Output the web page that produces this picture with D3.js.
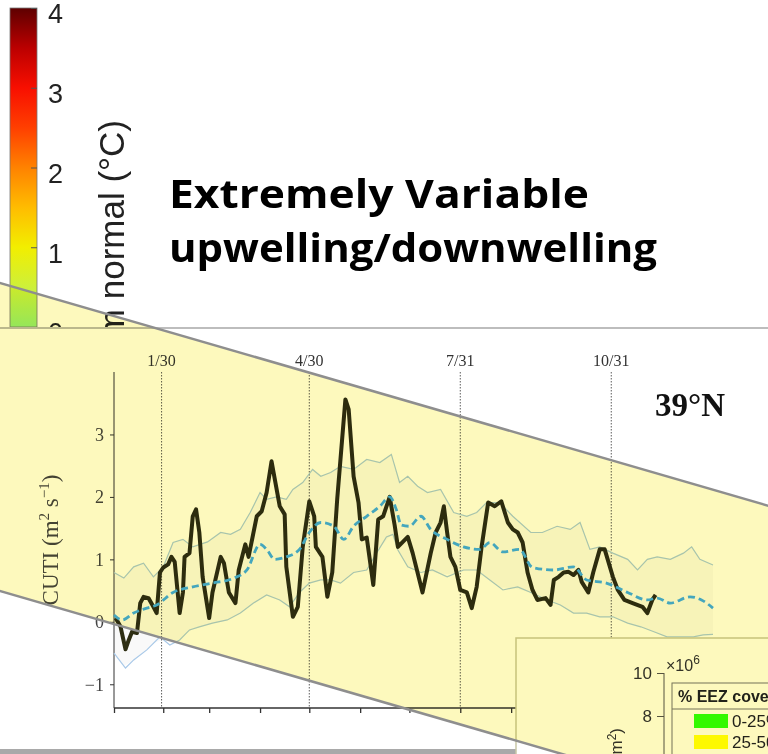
<!DOCTYPE html>
<html>
<head>
<meta charset="utf-8">
<script src="https://cdnjs.cloudflare.com/ajax/libs/d3/7.8.5/d3.min.js"></script>
<style>
  body { margin: 0; background: #fff; }
  svg { display: block; }
</style>
</head>
<body>
<div id="chart"></div>
<script>
// ---- data ----
// current year CUTI at 39N (thick black line)
var yearDays = [2, 5, 8, 10, 12, 15, 17, 19, 22, 25, 27, 29, 31, 34, 36, 38, 41, 43, 44, 47, 49, 51, 53, 55, 59, 61, 66, 68, 71, 75, 77, 81, 83, 88, 91, 94, 97, 99, 102, 105, 106, 110, 113, 116, 120, 123, 124, 128, 131, 134, 137, 142, 144, 147, 150, 152, 155, 159, 162, 165, 169, 172, 174, 180, 183, 189, 194, 197, 200, 202, 204, 206, 209, 212, 216, 219, 222, 225, 229, 233, 237, 241, 244, 247, 250, 253, 256, 259, 264, 267, 269, 272, 275, 278, 281, 284, 286, 290, 293, 297, 300, 305, 308, 312, 317, 323, 326, 329, 331];
var yearCuti = [0.06, -0.08, -0.44, -0.29, -0.16, -0.18, 0.3, 0.4, 0.38, 0.24, 0.14, 0.79, 0.87, 0.92, 1.04, 0.96, 0.14, 0.47, 1.04, 1.1, 1.69, 1.8, 1.43, 0.72, 0.06, 0.47, 1.04, 0.94, 0.47, 0.3, 0.83, 1.24, 1.04, 1.69, 1.77, 2.07, 2.57, 2.28, 1.85, 1.72, 0.88, 0.08, 0.24, 1.2, 1.93, 1.69, 1.2, 1.04, 0.4, 0.79, 1.96, 3.56, 3.4, 2.33, 1.91, 1.32, 1.35, 0.59, 1.64, 1.69, 2.0, 1.55, 1.2, 1.36, 1.1, 0.47, 1.1, 1.43, 1.59, 1.85, 1.43, 1.04, 0.88, 0.51, 0.47, 0.22, 0.56, 1.2, 1.91, 1.85, 1.93, 1.59, 1.48, 1.43, 1.27, 0.79, 0.51, 0.35, 0.38, 0.27, 0.67, 0.72, 0.79, 0.8, 0.75, 0.83, 0.64, 0.47, 0.79, 1.16, 1.16, 0.72, 0.51, 0.35, 0.3, 0.24, 0.14, 0.35, 0.43];

// climatological mean (dashed blue)
var meanDays = [1, 6, 13, 21, 27, 37, 49, 61, 74, 82, 90, 94, 99, 106, 114, 120, 127, 135, 141, 147, 155, 163, 169, 173, 176, 181, 188, 194, 204, 214, 224, 230, 238, 248, 256, 269, 281, 289, 301, 314, 326, 332, 340, 352, 359, 366];
var meanCuti = [0.11, 0.03, 0.14, 0.22, 0.27, 0.47, 0.56, 0.62, 0.7, 0.83, 1.24, 1.16, 1.0, 1.04, 1.16, 1.43, 1.59, 1.53, 1.32, 1.53, 1.69, 1.85, 2.0, 1.8, 1.55, 1.53, 1.69, 1.48, 1.32, 1.2, 1.16, 1.27, 1.12, 1.16, 0.87, 0.83, 0.88, 0.67, 0.62, 0.47, 0.35, 0.38, 0.3, 0.4, 0.35, 0.22];

// upper and lower envelope (thin light blue)
var upperDays = [1, 7, 13, 19, 25, 31, 37, 43, 49, 58, 66, 72, 78, 84, 90, 94, 100, 106, 110, 116, 122, 127, 133, 139, 147, 155, 163, 170, 175, 180, 186, 192, 200, 208, 216, 222, 228, 236, 244, 255, 262, 271, 279, 285, 291, 297, 305, 314, 320, 326, 332, 340, 348, 353, 358, 366];
var upperCuti = [0.79, 0.7, 0.88, 0.94, 0.72, 0.88, 1.27, 1.32, 1.2, 1.28, 1.43, 1.4, 1.48, 1.75, 2.07, 1.96, 2.0, 1.96, 2.12, 2.23, 2.44, 2.33, 2.39, 2.49, 2.44, 2.6, 2.55, 2.68, 2.23, 2.33, 2.17, 2.07, 2.12, 1.75, 1.69, 1.75, 1.91, 1.91, 1.69, 1.43, 1.43, 1.53, 1.48, 1.59, 1.16, 1.2, 1.1, 1.0, 0.83, 1.0, 1.04, 1.0, 1.1, 1.2, 1.0, 0.91];
var lowerDays = [1, 8, 13, 21, 29, 35, 41, 47, 53, 61, 70, 78, 86, 94, 102, 108, 114, 120, 127, 133, 139, 147, 155, 161, 167, 171, 174, 180, 188, 195, 204, 214, 222, 230, 238, 247, 255, 265, 273, 281, 289, 297, 305, 314, 322, 330, 338, 346, 354, 360, 366];
var lowerCuti = [-0.5, -0.74, -0.61, -0.45, -0.24, -0.37, -0.29, -0.13, -0.08, -0.02, 0.03, 0.14, 0.3, 0.43, 0.35, 0.24, 0.47, 0.62, 0.67, 0.67, 0.62, 0.79, 0.83, 1.1, 1.36, 1.4, 1.15, 0.88, 0.79, 0.83, 0.72, 0.83, 0.83, 0.67, 0.51, 0.56, 0.47, 0.35, 0.27, 0.14, 0.14, 0.08, 0.08, -0.02, -0.08, -0.16, -0.24, -0.24, -0.24, -0.21, -0.2];

var monthTickDays = [1, 31, 59, 90, 120, 151, 181, 212, 243, 273, 304, 334, 365];
var dateLabelDays = [30, 120, 212, 304];
var dateLabels = ["1/30", "4/30", "7/31", "10/31"];
var cutiTicks = [-1, 0, 1, 2, 3];

// colour bar (temperature difference)
var colorbarTicks = [0, 1, 2, 3, 4];
var colorbarStopValues = [0, 0.5, 1, 1.5, 2, 2.5, 3, 3.5, 4];
var colorbarStopColors = ["#96ec78", "#cdf03a", "#f2ee00", "#ffbc00", "#ff8200", "#ff3f00", "#f80f00", "#bb0000", "#5e0000"];

// inset bar chart fragment
var insetTicks = [8, 10];
var legendLabels = ["0-25%", "25-50%"];
var legendColors = ["#33ff00", "#ffff00"];

// ---- svg ----
var svgWidth = 768;
var svgHeight = 754;

var svg = d3.select("#chart")
  .append("svg")
  .attr("width", svgWidth)
  .attr("height", svgHeight);

svg.append("rect")
  .attr("width", svgWidth)
  .attr("height", svgHeight)
  .attr("fill", "#fff");

// ---- colour bar at top left ----
var cbScale = d3.scaleLinear().domain([0, 4]).range([327, 8]);
var cbColor = d3.scaleLinear().domain(colorbarStopValues).range(colorbarStopColors);

var grad = svg.append("defs").append("linearGradient")
  .attr("id", "cbgrad")
  .attr("x1", 0).attr("y1", 1).attr("x2", 0).attr("y2", 0);

grad.selectAll("stop")
  .data(colorbarStopValues)
  .enter()
  .append("stop")
  .attr("offset", d => d / 4)
  .attr("stop-color", d => cbColor(d));

svg.append("rect")
  .attr("x", 10)
  .attr("y", cbScale(4))
  .attr("width", 27)
  .attr("height", cbScale(0) - cbScale(4))
  .attr("fill", "url(#cbgrad)")
  .attr("stroke", "#777")
  .attr("stroke-width", 0.8);

var cbAxis = d3.axisRight(cbScale)
  .tickValues(colorbarTicks)
  .tickFormat(d3.format("d"))
  .tickSize(-6)
  .tickPadding(11);

var cbAxisG = svg.append("g")
  .attr("transform", "translate(37,0)")
  .call(cbAxis);
cbAxisG.select(".domain").remove();
cbAxisG.selectAll("line").attr("stroke", "#555");
cbAxisG.selectAll("text")
  .attr("fill", "#222")
  .attr("dy", "0.55em")
  .style("font-family", "Liberation Sans, Arial, sans-serif")
  .style("font-size", "27px");

svg.append("text")
  .attr("transform", "translate(124,120) rotate(-90)")
  .attr("text-anchor", "end")
  .style("font-family", "Liberation Sans, Arial, sans-serif")
  .style("font-size", "35px")
  .attr("fill", "#222")
  .text("Difference from normal (°C)");

// title
svg.append("text")
  .attr("x", 169).attr("y", 208)
  .attr("textLength", 420)
  .attr("lengthAdjust", "spacingAndGlyphs")
  .style("font-family", "Open Sans, Lato, sans-serif")
  .style("font-weight", "bold")
  .style("font-size", "39px")
  .attr("fill", "#000")
  .text("Extremely Variable");
svg.append("text")
  .attr("x", 169).attr("y", 262)
  .attr("textLength", 488)
  .attr("lengthAdjust", "spacingAndGlyphs")
  .style("font-family", "Open Sans, Lato, sans-serif")
  .style("font-weight", "bold")
  .style("font-size", "39px")
  .attr("fill", "#000")
  .text("upwelling/downwelling");

// ---- CUTI chart panel ----
var panel = svg.append("g");

panel.append("rect")
  .attr("x", 0).attr("y", 328)
  .attr("width", svgWidth).attr("height", svgHeight - 328)
  .attr("fill", "#fff");

panel.append("line")
  .attr("x1", 0).attr("x2", svgWidth)
  .attr("y1", 328).attr("y2", 328)
  .attr("stroke", "#bdbdbd")
  .attr("stroke-width", 2);

var xScale = d3.scaleLinear().domain([1, 366]).range([114, 713]);
var yScale = d3.scaleLinear().domain([-1.38, 4.0]).range([708, 372]);

// shaded envelope (very faint)
var lowerAt = d3.scaleLinear().domain(lowerDays).range(lowerCuti);
var envelope = upperDays.map(function(d, i) {
  return { day: d, up: upperCuti[i], lo: lowerAt(d) };
});
panel.append("path")
  .datum(envelope)
  .attr("fill", "#f9f9f9")
  .attr("d", d3.area()
    .x(d => xScale(d.day))
    .y0(d => yScale(d.lo))
    .y1(d => yScale(d.up)));

// date guide lines
panel.selectAll(".guide")
  .data(dateLabelDays)
  .enter()
  .append("line")
  .attr("class", "guide")
  .attr("x1", d => xScale(d)).attr("x2", d => xScale(d))
  .attr("y1", 372).attr("y2", 708)
  .attr("stroke", "#333")
  .attr("stroke-width", 0.8)
  .attr("stroke-dasharray", "1.5,1.5");

panel.selectAll(".datelabel")
  .data(dateLabelDays)
  .enter()
  .append("text")
  .attr("class", "datelabel")
  .attr("x", d => xScale(d))
  .attr("y", 366)
  .attr("text-anchor", "middle")
  .style("font-family", "Liberation Serif, Times New Roman, serif")
  .style("font-size", "16px")
  .attr("fill", "#333")
  .text((d, i) => dateLabels[i]);

// axes
var leftAxis = d3.axisLeft(yScale).tickValues(cutiTicks).tickFormat(d3.format("d")).tickSize(4).tickPadding(6);
var bottomAxis = d3.axisBottom(xScale).tickValues(monthTickDays).tickSize(5).tickFormat("");

var yAxisG = panel.append("g")
  .attr("transform", "translate(114,0)")
  .call(leftAxis);
yAxisG.select(".domain").attr("d", "M0,372V708").attr("stroke", "#333");
yAxisG.selectAll("line").attr("stroke", "#333");
yAxisG.selectAll("text")
  .attr("fill", "#444")
  .style("font-family", "Liberation Serif, Times New Roman, serif")
  .style("font-size", "18px");

var xAxisG = panel.append("g")
  .attr("transform", "translate(0,708)")
  .call(bottomAxis);
xAxisG.select(".domain").attr("d", "M114,0H713").attr("stroke", "#333").attr("stroke-width", 1.3);
xAxisG.selectAll("line").attr("stroke", "#333").attr("stroke-width", 1.3);

panel.append("text")
  .attr("transform", "translate(58,540) rotate(-90)")
  .attr("text-anchor", "middle")
  .style("font-family", "Liberation Serif, Times New Roman, serif")
  .style("font-size", "23px")
  .attr("fill", "#444")
  .html("CUTI (m<tspan dy='-9' font-size='15px'>2</tspan><tspan dy='9'> s</tspan><tspan dy='-9' font-size='15px'>−1</tspan><tspan dy='9'>)</tspan>");

panel.append("text")
  .attr("x", 655).attr("y", 416)
  .style("font-family", "Liberation Serif, Times New Roman, serif")
  .style("font-weight", "bold")
  .style("font-size", "33px")
  .attr("fill", "#111")
  .text("39°N");

// envelope lines
var line = d3.line().x(d => xScale(d[0])).y(d => yScale(d[1]));

panel.append("path")
  .datum(upperDays.map((d, i) => [d, upperCuti[i]]))
  .attr("fill", "none").attr("stroke", "#a9c9e8").attr("stroke-width", 1.2)
  .attr("d", line);
panel.append("path")
  .datum(lowerDays.map((d, i) => [d, lowerCuti[i]]))
  .attr("fill", "none").attr("stroke", "#a9c9e8").attr("stroke-width", 1.2)
  .attr("d", line);

// current year
panel.append("path")
  .datum(yearDays.map((d, i) => [d, yearCuti[i]]))
  .attr("fill", "none")
  .attr("stroke", "#2d2d12")
  .attr("stroke-width", 4)
  .attr("stroke-linejoin", "round")
  .attr("d", line);

// climatology
panel.append("path")
  .datum(meanDays.map((d, i) => [d, meanCuti[i]]))
  .attr("fill", "none")
  .attr("stroke", "#44aaff")
  .attr("stroke-width", 2.8)
  .attr("stroke-dasharray", "7,4")
  .attr("d", d3.line().curve(d3.curveMonotoneX).x(d => xScale(d[0])).y(d => yScale(d[1])));

// bottom frame bar
panel.append("rect")
  .attr("x", 0).attr("y", 749)
  .attr("width", svgWidth).attr("height", 5)
  .attr("fill", "#a9a9a9");

// ---- inset (area by EEZ coverage) ----
var inset = svg.append("g");
inset.append("rect")
  .attr("x", 516).attr("y", 638)
  .attr("width", 260).attr("height", 130)
  .attr("fill", "#fff")
  .attr("stroke", "#c9c7a6")
  .attr("stroke-width", 1.5);

var insetY = d3.scaleLinear().domain([8, 10]).range([716, 673]);
var insetAxisG = inset.append("g")
  .attr("transform", "translate(664,0)")
  .call(d3.axisLeft(insetY).tickValues(insetTicks).tickFormat(d3.format("d")).tickSize(7).tickPadding(5));
insetAxisG.select(".domain").attr("d", "M0,673V760").attr("stroke", "#555");
insetAxisG.selectAll("line").attr("stroke", "#555");
insetAxisG.selectAll("text")
  .attr("fill", "#333")
  .style("font-family", "Liberation Sans, Arial, sans-serif")
  .style("font-size", "17px");

inset.append("text")
  .attr("x", 666).attr("y", 671)
  .style("font-family", "Liberation Sans, Arial, sans-serif")
  .style("font-size", "16px")
  .attr("fill", "#333")
  .html("×10<tspan dy='-7' font-size='12px'>6</tspan>");

inset.append("text")
  .attr("transform", "translate(622,728) rotate(-90)")
  .attr("text-anchor", "end")
  .style("font-family", "Liberation Sans, Arial, sans-serif")
  .style("font-size", "17px")
  .attr("fill", "#333")
  .html("Area (km<tspan dy='-6' font-size='12px'>2</tspan><tspan dy='6'>)</tspan>");

// legend
inset.append("rect")
  .attr("x", 672).attr("y", 683)
  .attr("width", 120).attr("height", 90)
  .attr("fill", "#fff")
  .attr("stroke", "#777")
  .attr("stroke-width", 1);
inset.append("line")
  .attr("x1", 672).attr("x2", 790)
  .attr("y1", 709).attr("y2", 709)
  .attr("stroke", "#777");
inset.append("text")
  .attr("x", 678).attr("y", 702)
  .style("font-family", "Liberation Sans, Arial, sans-serif")
  .style("font-weight", "bold")
  .style("font-size", "16px")
  .attr("fill", "#222")
  .text("% EEZ coverage");

var legendRows = inset.selectAll(".lrow")
  .data(legendLabels)
  .enter()
  .append("g")
  .attr("class", "lrow")
  .attr("transform", (d, i) => `translate(0, ${714 + i * 21})`);
legendRows.append("rect")
  .attr("x", 694).attr("y", 0)
  .attr("width", 34).attr("height", 14)
  .attr("fill", (d, i) => legendColors[i]);
legendRows.append("text")
  .attr("x", 732).attr("y", 13)
  .style("font-family", "Liberation Sans, Arial, sans-serif")
  .style("font-size", "17px")
  .attr("fill", "#222")
  .text(d => d);

// ---- yellow highlight band across everything ----
var slope = 0.29;
var bandTop = 283, bandBottom = 591;
var bandPts = [[-20, bandTop - 20 * slope], [800, bandTop + 800 * slope],
               [800, bandBottom + 800 * slope], [-20, bandBottom - 20 * slope]];

svg.append("path")
  .attr("d", d3.line()(bandPts) + "Z")
  .attr("fill", "#fdf9bd")
  .style("mix-blend-mode", "multiply");

svg.append("line")
  .attr("x1", bandPts[0][0]).attr("y1", bandPts[0][1])
  .attr("x2", bandPts[1][0]).attr("y2", bandPts[1][1])
  .attr("stroke", "#8e8e8e").attr("stroke-width", 2.5);
svg.append("line")
  .attr("x1", bandPts[3][0]).attr("y1", bandPts[3][1])
  .attr("x2", bandPts[2][0]).attr("y2", bandPts[2][1])
  .attr("stroke", "#8e8e8e").attr("stroke-width", 2.5);
</script>
</body>
</html>
